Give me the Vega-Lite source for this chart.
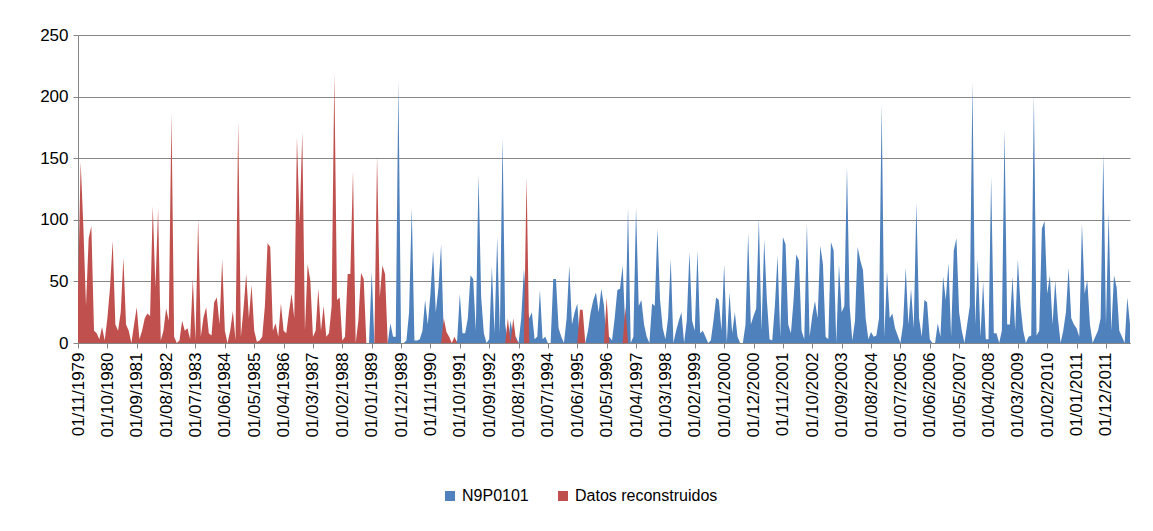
{
"$schema": "https://vega.github.io/schema/vega-lite/v6.json",
"width": 1052, "height": 308,
"autosize": "none",
"padding": {"left": 78, "top": 35, "right": 23, "bottom": 188},
"background": "white",
"config": {"view": {"stroke": null}, "font": "Liberation Sans"},
"data": {"values": [
{"fecha":"01/11/1979","obs":0,"rec":40},{"fecha":"01/12/1979","obs":0,"rec":147},
{"fecha":"01/01/1980","obs":0,"rec":95},{"fecha":"01/02/1980","obs":0,"rec":30},{"fecha":"01/03/1980","obs":0,"rec":85},{"fecha":"01/04/1980","obs":0,"rec":95},{"fecha":"01/05/1980","obs":0,"rec":10},{"fecha":"01/06/1980","obs":0,"rec":8},{"fecha":"01/07/1980","obs":0,"rec":3},{"fecha":"01/08/1980","obs":0,"rec":13},{"fecha":"01/09/1980","obs":0,"rec":2},{"fecha":"01/10/1980","obs":0,"rec":20},{"fecha":"01/11/1980","obs":0,"rec":45},{"fecha":"01/12/1980","obs":0,"rec":83},
{"fecha":"01/01/1981","obs":0,"rec":15},{"fecha":"01/02/1981","obs":0,"rec":10},{"fecha":"01/03/1981","obs":0,"rec":25},{"fecha":"01/04/1981","obs":0,"rec":69},{"fecha":"01/05/1981","obs":0,"rec":15},{"fecha":"01/06/1981","obs":0,"rec":10},{"fecha":"01/07/1981","obs":0,"rec":0},{"fecha":"01/08/1981","obs":0,"rec":15},{"fecha":"01/09/1981","obs":0,"rec":29},{"fecha":"01/10/1981","obs":0,"rec":3},{"fecha":"01/11/1981","obs":0,"rec":10},{"fecha":"01/12/1981","obs":0,"rec":20},
{"fecha":"01/01/1982","obs":0,"rec":24},{"fecha":"01/02/1982","obs":0,"rec":22},{"fecha":"01/03/1982","obs":0,"rec":111},{"fecha":"01/04/1982","obs":0,"rec":45},{"fecha":"01/05/1982","obs":0,"rec":109},{"fecha":"01/06/1982","obs":0,"rec":2},{"fecha":"01/07/1982","obs":0,"rec":10},{"fecha":"01/08/1982","obs":0,"rec":28},{"fecha":"01/09/1982","obs":0,"rec":18},{"fecha":"01/10/1982","obs":0,"rec":186},{"fecha":"01/11/1982","obs":0,"rec":5},{"fecha":"01/12/1982","obs":0,"rec":0},
{"fecha":"01/01/1983","obs":0,"rec":2},{"fecha":"01/02/1983","obs":0,"rec":18},{"fecha":"01/03/1983","obs":0,"rec":10},{"fecha":"01/04/1983","obs":0,"rec":12},{"fecha":"01/05/1983","obs":0,"rec":3},{"fecha":"01/06/1983","obs":0,"rec":52},{"fecha":"01/07/1983","obs":0,"rec":2},{"fecha":"01/08/1983","obs":0,"rec":101},{"fecha":"01/09/1983","obs":0,"rec":5},{"fecha":"01/10/1983","obs":0,"rec":21},{"fecha":"01/11/1983","obs":0,"rec":29},{"fecha":"01/12/1983","obs":0,"rec":8},
{"fecha":"01/01/1984","obs":0,"rec":6},{"fecha":"01/02/1984","obs":0,"rec":33},{"fecha":"01/03/1984","obs":0,"rec":37},{"fecha":"01/04/1984","obs":0,"rec":15},{"fecha":"01/05/1984","obs":0,"rec":68},{"fecha":"01/06/1984","obs":0,"rec":10},{"fecha":"01/07/1984","obs":0,"rec":0},{"fecha":"01/08/1984","obs":0,"rec":10},{"fecha":"01/09/1984","obs":0,"rec":26},{"fecha":"01/10/1984","obs":0,"rec":2},{"fecha":"01/11/1984","obs":0,"rec":180},{"fecha":"01/12/1984","obs":0,"rec":5},
{"fecha":"01/01/1985","obs":0,"rec":28},{"fecha":"01/02/1985","obs":0,"rec":56},{"fecha":"01/03/1985","obs":0,"rec":20},{"fecha":"01/04/1985","obs":0,"rec":47},{"fecha":"01/05/1985","obs":0,"rec":10},{"fecha":"01/06/1985","obs":0,"rec":1},{"fecha":"01/07/1985","obs":0,"rec":2},{"fecha":"01/08/1985","obs":0,"rec":5},{"fecha":"01/09/1985","obs":0,"rec":30},{"fecha":"01/10/1985","obs":0,"rec":81},{"fecha":"01/11/1985","obs":0,"rec":78},{"fecha":"01/12/1985","obs":0,"rec":10},
{"fecha":"01/01/1986","obs":0,"rec":16},{"fecha":"01/02/1986","obs":0,"rec":5},{"fecha":"01/03/1986","obs":0,"rec":32},{"fecha":"01/04/1986","obs":0,"rec":10},{"fecha":"01/05/1986","obs":0,"rec":8},{"fecha":"01/06/1986","obs":0,"rec":25},{"fecha":"01/07/1986","obs":0,"rec":40},{"fecha":"01/08/1986","obs":0,"rec":20},{"fecha":"01/09/1986","obs":0,"rec":167},{"fecha":"01/10/1986","obs":0,"rec":97},{"fecha":"01/11/1986","obs":0,"rec":171},{"fecha":"01/12/1986","obs":0,"rec":10},
{"fecha":"01/01/1987","obs":0,"rec":64},{"fecha":"01/02/1987","obs":0,"rec":51},{"fecha":"01/03/1987","obs":0,"rec":5},{"fecha":"01/04/1987","obs":0,"rec":10},{"fecha":"01/05/1987","obs":0,"rec":44},{"fecha":"01/06/1987","obs":0,"rec":10},{"fecha":"01/07/1987","obs":0,"rec":30},{"fecha":"01/08/1987","obs":0,"rec":5},{"fecha":"01/09/1987","obs":0,"rec":8},{"fecha":"01/10/1987","obs":0,"rec":30},{"fecha":"01/11/1987","obs":0,"rec":219},{"fecha":"01/12/1987","obs":0,"rec":35},
{"fecha":"01/01/1988","obs":0,"rec":37},{"fecha":"01/02/1988","obs":0,"rec":2},{"fecha":"01/03/1988","obs":0,"rec":5},{"fecha":"01/04/1988","obs":0,"rec":56},{"fecha":"01/05/1988","obs":0,"rec":56},{"fecha":"01/06/1988","obs":0,"rec":140},{"fecha":"01/07/1988","obs":0,"rec":0},{"fecha":"01/08/1988","obs":0,"rec":18},{"fecha":"01/09/1988","obs":0,"rec":57},{"fecha":"01/10/1988","obs":0,"rec":52},{"fecha":"01/11/1988","obs":0,"rec":0},{"fecha":"01/12/1988","obs":0,"rec":0},
{"fecha":"01/01/1989","obs":58,"rec":0},{"fecha":"01/02/1989","obs":0,"rec":0},{"fecha":"01/03/1989","obs":0,"rec":152},{"fecha":"01/04/1989","obs":0,"rec":37},{"fecha":"01/05/1989","obs":0,"rec":63},{"fecha":"01/06/1989","obs":0,"rec":56},{"fecha":"01/07/1989","obs":0,"rec":0},{"fecha":"01/08/1989","obs":16,"rec":0},{"fecha":"01/09/1989","obs":5,"rec":0},{"fecha":"01/10/1989","obs":5,"rec":0},{"fecha":"01/11/1989","obs":213,"rec":0},{"fecha":"01/12/1989","obs":0,"rec":0},
{"fecha":"01/01/1990","obs":0,"rec":0},{"fecha":"01/02/1990","obs":2,"rec":0},{"fecha":"01/03/1990","obs":25,"rec":0},{"fecha":"01/04/1990","obs":110,"rec":0},{"fecha":"01/05/1990","obs":2,"rec":0},{"fecha":"01/06/1990","obs":2,"rec":0},{"fecha":"01/07/1990","obs":3,"rec":0},{"fecha":"01/08/1990","obs":10,"rec":0},{"fecha":"01/09/1990","obs":35,"rec":0},{"fecha":"01/10/1990","obs":15,"rec":0},{"fecha":"01/11/1990","obs":40,"rec":0},{"fecha":"01/12/1990","obs":75,"rec":0},
{"fecha":"01/01/1991","obs":25,"rec":0},{"fecha":"01/02/1991","obs":45,"rec":0},{"fecha":"01/03/1991","obs":80,"rec":0},{"fecha":"01/04/1991","obs":5,"rec":20},{"fecha":"01/05/1991","obs":0,"rec":9},{"fecha":"01/06/1991","obs":0,"rec":5},{"fecha":"01/07/1991","obs":0,"rec":0},{"fecha":"01/08/1991","obs":0,"rec":5},{"fecha":"01/09/1991","obs":2,"rec":0},{"fecha":"01/10/1991","obs":40,"rec":0},{"fecha":"01/11/1991","obs":8,"rec":0},{"fecha":"01/12/1991","obs":8,"rec":0},
{"fecha":"01/01/1992","obs":20,"rec":0},{"fecha":"01/02/1992","obs":55,"rec":0},{"fecha":"01/03/1992","obs":52,"rec":0},{"fecha":"01/04/1992","obs":10,"rec":0},{"fecha":"01/05/1992","obs":137,"rec":0},{"fecha":"01/06/1992","obs":37,"rec":0},{"fecha":"01/07/1992","obs":8,"rec":0},{"fecha":"01/08/1992","obs":0,"rec":0},{"fecha":"01/09/1992","obs":3,"rec":0},{"fecha":"01/10/1992","obs":62,"rec":0},{"fecha":"01/11/1992","obs":8,"rec":0},{"fecha":"01/12/1992","obs":86,"rec":0},
{"fecha":"01/01/1993","obs":8,"rec":0},{"fecha":"01/02/1993","obs":167,"rec":0},{"fecha":"01/03/1993","obs":15,"rec":0},{"fecha":"01/04/1993","obs":0,"rec":20},{"fecha":"01/05/1993","obs":18,"rec":0},{"fecha":"01/06/1993","obs":5,"rec":20},{"fecha":"01/07/1993","obs":5,"rec":3},{"fecha":"01/08/1993","obs":0,"rec":0},{"fecha":"01/09/1993","obs":20,"rec":0},{"fecha":"01/10/1993","obs":60,"rec":0},{"fecha":"01/11/1993","obs":30,"rec":135},{"fecha":"01/12/1993","obs":20,"rec":0},
{"fecha":"01/01/1994","obs":25,"rec":0},{"fecha":"01/02/1994","obs":3,"rec":0},{"fecha":"01/03/1994","obs":5,"rec":0},{"fecha":"01/04/1994","obs":43,"rec":0},{"fecha":"01/05/1994","obs":3,"rec":0},{"fecha":"01/06/1994","obs":5,"rec":0},{"fecha":"01/07/1994","obs":0,"rec":0},{"fecha":"01/08/1994","obs":0,"rec":0},{"fecha":"01/09/1994","obs":52,"rec":0},{"fecha":"01/10/1994","obs":52,"rec":0},{"fecha":"01/11/1994","obs":12,"rec":0},{"fecha":"01/12/1994","obs":5,"rec":0},
{"fecha":"01/01/1995","obs":0,"rec":0},{"fecha":"01/02/1995","obs":20,"rec":0},{"fecha":"01/03/1995","obs":63,"rec":0},{"fecha":"01/04/1995","obs":15,"rec":0},{"fecha":"01/05/1995","obs":25,"rec":0},{"fecha":"01/06/1995","obs":32,"rec":0},{"fecha":"01/07/1995","obs":0,"rec":27},{"fecha":"01/08/1995","obs":0,"rec":27},{"fecha":"01/09/1995","obs":0,"rec":0},{"fecha":"01/10/1995","obs":10,"rec":0},{"fecha":"01/11/1995","obs":25,"rec":0},{"fecha":"01/12/1995","obs":35,"rec":0},
{"fecha":"01/01/1996","obs":41,"rec":0},{"fecha":"01/02/1996","obs":25,"rec":0},{"fecha":"01/03/1996","obs":44,"rec":0},{"fecha":"01/04/1996","obs":30,"rec":0},{"fecha":"01/05/1996","obs":0,"rec":37},{"fecha":"01/06/1996","obs":5,"rec":0},{"fecha":"01/07/1996","obs":2,"rec":0},{"fecha":"01/08/1996","obs":20,"rec":0},{"fecha":"01/09/1996","obs":43,"rec":0},{"fecha":"01/10/1996","obs":44,"rec":0},{"fecha":"01/11/1996","obs":63,"rec":0},{"fecha":"01/12/1996","obs":10,"rec":29},
{"fecha":"01/01/1997","obs":110,"rec":0},{"fecha":"01/02/1997","obs":0,"rec":0},{"fecha":"01/03/1997","obs":5,"rec":0},{"fecha":"01/04/1997","obs":110,"rec":0},{"fecha":"01/05/1997","obs":30,"rec":0},{"fecha":"01/06/1997","obs":35,"rec":0},{"fecha":"01/07/1997","obs":15,"rec":0},{"fecha":"01/08/1997","obs":5,"rec":0},{"fecha":"01/09/1997","obs":0,"rec":0},{"fecha":"01/10/1997","obs":32,"rec":0},{"fecha":"01/11/1997","obs":30,"rec":0},{"fecha":"01/12/1997","obs":93,"rec":0},
{"fecha":"01/01/1998","obs":35,"rec":0},{"fecha":"01/02/1998","obs":12,"rec":0},{"fecha":"01/03/1998","obs":3,"rec":0},{"fecha":"01/04/1998","obs":20,"rec":0},{"fecha":"01/05/1998","obs":68,"rec":0},{"fecha":"01/06/1998","obs":0,"rec":0},{"fecha":"01/07/1998","obs":10,"rec":0},{"fecha":"01/08/1998","obs":18,"rec":0},{"fecha":"01/09/1998","obs":25,"rec":0},{"fecha":"01/10/1998","obs":0,"rec":0},{"fecha":"01/11/1998","obs":18,"rec":0},{"fecha":"01/12/1998","obs":74,"rec":0},
{"fecha":"01/01/1999","obs":18,"rec":0},{"fecha":"01/02/1999","obs":10,"rec":0},{"fecha":"01/03/1999","obs":75,"rec":0},{"fecha":"01/04/1999","obs":8,"rec":0},{"fecha":"01/05/1999","obs":10,"rec":0},{"fecha":"01/06/1999","obs":5,"rec":0},{"fecha":"01/07/1999","obs":0,"rec":0},{"fecha":"01/08/1999","obs":2,"rec":0},{"fecha":"01/09/1999","obs":18,"rec":0},{"fecha":"01/10/1999","obs":37,"rec":0},{"fecha":"01/11/1999","obs":35,"rec":0},{"fecha":"01/12/1999","obs":10,"rec":0},
{"fecha":"01/01/2000","obs":64,"rec":0},{"fecha":"01/02/2000","obs":0,"rec":0},{"fecha":"01/03/2000","obs":41,"rec":0},{"fecha":"01/04/2000","obs":8,"rec":0},{"fecha":"01/05/2000","obs":25,"rec":0},{"fecha":"01/06/2000","obs":5,"rec":0},{"fecha":"01/07/2000","obs":0,"rec":0},{"fecha":"01/08/2000","obs":0,"rec":0},{"fecha":"01/09/2000","obs":15,"rec":0},{"fecha":"01/10/2000","obs":89,"rec":0},{"fecha":"01/11/2000","obs":15,"rec":0},{"fecha":"01/12/2000","obs":22,"rec":0},
{"fecha":"01/01/2001","obs":28,"rec":0},{"fecha":"01/02/2001","obs":101,"rec":0},{"fecha":"01/03/2001","obs":10,"rec":0},{"fecha":"01/04/2001","obs":84,"rec":0},{"fecha":"01/05/2001","obs":35,"rec":0},{"fecha":"01/06/2001","obs":3,"rec":0},{"fecha":"01/07/2001","obs":2,"rec":0},{"fecha":"01/08/2001","obs":30,"rec":0},{"fecha":"01/09/2001","obs":71,"rec":0},{"fecha":"01/10/2001","obs":5,"rec":0},{"fecha":"01/11/2001","obs":86,"rec":0},{"fecha":"01/12/2001","obs":80,"rec":0},
{"fecha":"01/01/2002","obs":15,"rec":0},{"fecha":"01/02/2002","obs":8,"rec":0},{"fecha":"01/03/2002","obs":35,"rec":0},{"fecha":"01/04/2002","obs":72,"rec":0},{"fecha":"01/05/2002","obs":67,"rec":0},{"fecha":"01/06/2002","obs":10,"rec":0},{"fecha":"01/07/2002","obs":3,"rec":0},{"fecha":"01/08/2002","obs":97,"rec":0},{"fecha":"01/09/2002","obs":5,"rec":0},{"fecha":"01/10/2002","obs":22,"rec":0},{"fecha":"01/11/2002","obs":34,"rec":0},{"fecha":"01/12/2002","obs":20,"rec":0},
{"fecha":"01/01/2003","obs":79,"rec":0},{"fecha":"01/02/2003","obs":64,"rec":0},{"fecha":"01/03/2003","obs":5,"rec":0},{"fecha":"01/04/2003","obs":3,"rec":0},{"fecha":"01/05/2003","obs":82,"rec":0},{"fecha":"01/06/2003","obs":75,"rec":0},{"fecha":"01/07/2003","obs":0,"rec":0},{"fecha":"01/08/2003","obs":64,"rec":0},{"fecha":"01/09/2003","obs":25,"rec":0},{"fecha":"01/10/2003","obs":30,"rec":0},{"fecha":"01/11/2003","obs":143,"rec":0},{"fecha":"01/12/2003","obs":30,"rec":0},
{"fecha":"01/01/2004","obs":2,"rec":0},{"fecha":"01/02/2004","obs":18,"rec":0},{"fecha":"01/03/2004","obs":78,"rec":0},{"fecha":"01/04/2004","obs":67,"rec":0},{"fecha":"01/05/2004","obs":59,"rec":0},{"fecha":"01/06/2004","obs":20,"rec":0},{"fecha":"01/07/2004","obs":3,"rec":0},{"fecha":"01/08/2004","obs":9,"rec":0},{"fecha":"01/09/2004","obs":5,"rec":0},{"fecha":"01/10/2004","obs":6,"rec":0},{"fecha":"01/11/2004","obs":20,"rec":0},{"fecha":"01/12/2004","obs":194,"rec":0},
{"fecha":"01/01/2005","obs":5,"rec":0},{"fecha":"01/02/2005","obs":58,"rec":0},{"fecha":"01/03/2005","obs":20,"rec":0},{"fecha":"01/04/2005","obs":24,"rec":0},{"fecha":"01/05/2005","obs":12,"rec":0},{"fecha":"01/06/2005","obs":6,"rec":0},{"fecha":"01/07/2005","obs":0,"rec":0},{"fecha":"01/08/2005","obs":15,"rec":0},{"fecha":"01/09/2005","obs":61,"rec":0},{"fecha":"01/10/2005","obs":15,"rec":0},{"fecha":"01/11/2005","obs":44,"rec":0},{"fecha":"01/12/2005","obs":12,"rec":0},
{"fecha":"01/01/2006","obs":114,"rec":0},{"fecha":"01/02/2006","obs":20,"rec":0},{"fecha":"01/03/2006","obs":5,"rec":0},{"fecha":"01/04/2006","obs":35,"rec":0},{"fecha":"01/05/2006","obs":33,"rec":0},{"fecha":"01/06/2006","obs":3,"rec":0},{"fecha":"01/07/2006","obs":0,"rec":0},{"fecha":"01/08/2006","obs":0,"rec":0},{"fecha":"01/09/2006","obs":16,"rec":0},{"fecha":"01/10/2006","obs":5,"rec":0},{"fecha":"01/11/2006","obs":54,"rec":0},{"fecha":"01/12/2006","obs":35,"rec":0},
{"fecha":"01/01/2007","obs":65,"rec":0},{"fecha":"01/02/2007","obs":5,"rec":0},{"fecha":"01/03/2007","obs":75,"rec":0},{"fecha":"01/04/2007","obs":85,"rec":0},{"fecha":"01/05/2007","obs":25,"rec":0},{"fecha":"01/06/2007","obs":10,"rec":0},{"fecha":"01/07/2007","obs":0,"rec":0},{"fecha":"01/08/2007","obs":15,"rec":0},{"fecha":"01/09/2007","obs":30,"rec":0},{"fecha":"01/10/2007","obs":212,"rec":0},{"fecha":"01/11/2007","obs":15,"rec":0},{"fecha":"01/12/2007","obs":68,"rec":0},
{"fecha":"01/01/2008","obs":5,"rec":0},{"fecha":"01/02/2008","obs":50,"rec":0},{"fecha":"01/03/2008","obs":3,"rec":0},{"fecha":"01/04/2008","obs":3,"rec":0},{"fecha":"01/05/2008","obs":135,"rec":0},{"fecha":"01/06/2008","obs":8,"rec":0},{"fecha":"01/07/2008","obs":8,"rec":0},{"fecha":"01/08/2008","obs":0,"rec":0},{"fecha":"01/09/2008","obs":10,"rec":0},{"fecha":"01/10/2008","obs":174,"rec":0},{"fecha":"01/11/2008","obs":15,"rec":0},{"fecha":"01/12/2008","obs":15,"rec":0},
{"fecha":"01/01/2009","obs":54,"rec":0},{"fecha":"01/02/2009","obs":10,"rec":0},{"fecha":"01/03/2009","obs":68,"rec":0},{"fecha":"01/04/2009","obs":30,"rec":0},{"fecha":"01/05/2009","obs":10,"rec":0},{"fecha":"01/06/2009","obs":0,"rec":0},{"fecha":"01/07/2009","obs":5,"rec":0},{"fecha":"01/08/2009","obs":6,"rec":0},{"fecha":"01/09/2009","obs":202,"rec":0},{"fecha":"01/10/2009","obs":6,"rec":0},{"fecha":"01/11/2009","obs":10,"rec":0},{"fecha":"01/12/2009","obs":93,"rec":0},
{"fecha":"01/01/2010","obs":99,"rec":0},{"fecha":"01/02/2010","obs":40,"rec":0},{"fecha":"01/03/2010","obs":55,"rec":0},{"fecha":"01/04/2010","obs":15,"rec":0},{"fecha":"01/05/2010","obs":51,"rec":0},{"fecha":"01/06/2010","obs":20,"rec":0},{"fecha":"01/07/2010","obs":0,"rec":0},{"fecha":"01/08/2010","obs":10,"rec":0},{"fecha":"01/09/2010","obs":25,"rec":0},{"fecha":"01/10/2010","obs":61,"rec":0},{"fecha":"01/11/2010","obs":20,"rec":0},{"fecha":"01/12/2010","obs":15,"rec":0},
{"fecha":"01/01/2011","obs":12,"rec":0},{"fecha":"01/02/2011","obs":5,"rec":0},{"fecha":"01/03/2011","obs":97,"rec":0},{"fecha":"01/04/2011","obs":40,"rec":0},{"fecha":"01/05/2011","obs":51,"rec":0},{"fecha":"01/06/2011","obs":15,"rec":0},{"fecha":"01/07/2011","obs":0,"rec":0},{"fecha":"01/08/2011","obs":5,"rec":0},{"fecha":"01/09/2011","obs":10,"rec":0},{"fecha":"01/10/2011","obs":20,"rec":0},{"fecha":"01/11/2011","obs":154,"rec":0},{"fecha":"01/12/2011","obs":15,"rec":0},
{"fecha":"01/01/2012","obs":106,"rec":0},{"fecha":"01/02/2012","obs":10,"rec":0},{"fecha":"01/03/2012","obs":55,"rec":0},{"fecha":"01/04/2012","obs":45,"rec":0},{"fecha":"01/05/2012","obs":10,"rec":0},{"fecha":"01/06/2012","obs":5,"rec":0},{"fecha":"01/07/2012","obs":0,"rec":0},{"fecha":"01/08/2012","obs":37,"rec":0},{"fecha":"01/09/2012","obs":15,"rec":0}
]},
"encoding": {
  "x": {"field": "fecha", "type": "ordinal", "sort": null,
    "scale": {"type": "point", "padding": 0},
    "axis": {"title": null, "grid": false, "labelAngle": -90, "labelFontSize": 17, "labelColor": "black", "labelFont": "Liberation Sans",
      "domainColor": "#868686", "tickColor": "#868686", "tickSize": 5, "labelPadding": 4,
      "values": ["01/11/1979","01/10/1980","01/09/1981","01/08/1982","01/07/1983","01/06/1984","01/05/1985","01/04/1986","01/03/1987","01/02/1988","01/01/1989","01/12/1989","01/11/1990","01/10/1991","01/09/1992","01/08/1993","01/07/1994","01/06/1995","01/05/1996","01/04/1997","01/03/1998","01/02/1999","01/01/2000","01/12/2000","01/11/2001","01/10/2002","01/09/2003","01/08/2004","01/07/2005","01/06/2006","01/05/2007","01/04/2008","01/03/2009","01/02/2010","01/01/2011","01/12/2011"]}}
},
"layer": [
  {"mark": {"type": "area", "interpolate": "linear", "opacity": 1},
   "encoding": {
     "y": {"field": "obs", "type": "quantitative", "stack": null, "scale": {"domain": [0, 250], "nice": false},
       "axis": {"title": null, "values": [0, 50, 100, 150, 200, 250], "grid": true, "gridColor": "#868686", "gridWidth": 1,
         "domainColor": "#868686", "tickColor": "#868686", "tickSize": 5, "labelFontSize": 17, "labelColor": "black", "labelFont": "Liberation Sans", "labelPadding": 5}},
     "color": {"datum": "N9P0101", "type": "nominal",
       "scale": {"domain": ["N9P0101", "Datos reconstruidos"], "range": ["#4F81BD", "#C0504D"]},
       "legend": {"orient": "none", "legendX": 364, "legendY": 453, "direction": "horizontal", "title": null,
         "symbolType": "square", "symbolSize": 100, "symbolStrokeWidth": 0, "symbolOpacity": 1,
         "labelFontSize": 16, "labelColor": "black", "labelFont": "Liberation Sans", "columnPadding": 26, "labelOffset": 4}}
   }},
  {"mark": {"type": "area", "interpolate": "linear", "opacity": 1},
   "encoding": {
     "y": {"field": "rec", "type": "quantitative", "stack": null, "scale": {"domain": [0, 250], "nice": false},
       "axis": {"title": null, "values": [0, 50, 100, 150, 200, 250], "grid": true, "gridColor": "#868686", "gridWidth": 1,
         "domainColor": "#868686", "tickColor": "#868686", "tickSize": 5, "labelFontSize": 17, "labelColor": "black", "labelFont": "Liberation Sans", "labelPadding": 5}},
     "color": {"datum": "Datos reconstruidos", "type": "nominal"}
   }}
]
}
